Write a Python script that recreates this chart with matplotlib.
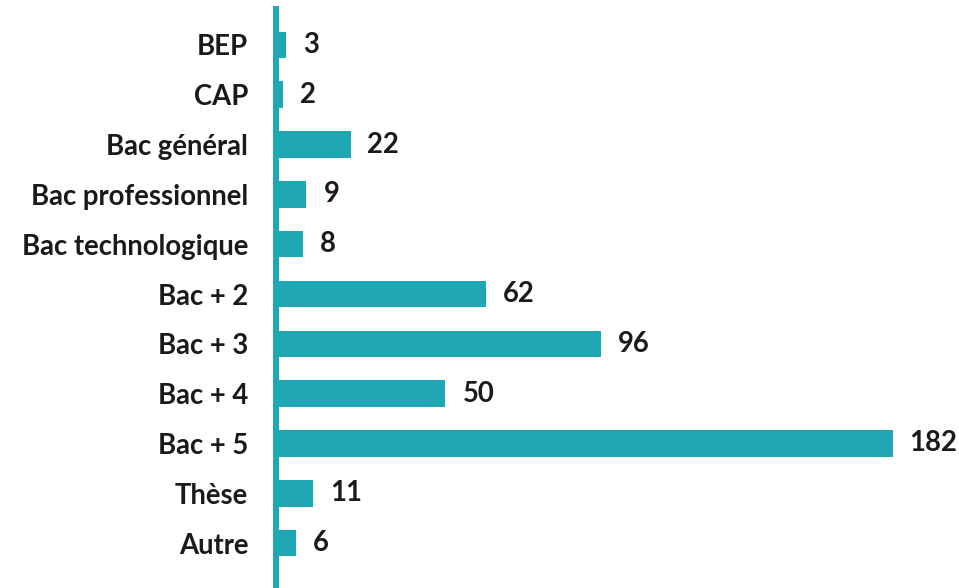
import matplotlib.pyplot as plt

categories = ['BEP', 'CAP', 'Bac général', 'Bac professionnel', 'Bac technologique',
              'Bac + 2', 'Bac + 3', 'Bac + 4', 'Bac + 5', 'Thèse', 'Autre']
values = [3, 2, 22, 9, 8, 62, 96, 50, 182, 11, 6]

teal = '#1fa8b4'
font = dict(fontsize=19.8, fontweight='bold', family='Lato', color='#1a1a1a')

fig = plt.figure(figsize=(9.59, 5.88), dpi=100)
ax = fig.add_axes([276 / 959, 0, 1 - 276 / 959, 1 - 9 / 588])

pos = list(range(len(categories)))
ax.barh(pos, values, height=0.53, color=teal)
for p, v in zip(pos, values):
    ax.text(v + 5, p, str(v), va='center', ha='left', **font)

ax.set_xlim(0, 201.6)
ax.set_ylim(10.9, -0.72)
ax.set_yticks(pos)
ax.set_yticklabels(categories, **font)
ax.tick_params(axis='y', length=0, pad=20)
ax.set_xticks([])
for s in ['top', 'right', 'bottom']:
    ax.spines[s].set_visible(False)
ax.spines['left'].set_color(teal)
ax.spines['left'].set_linewidth(4.3)

fig.savefig('out.png', dpi=100)
